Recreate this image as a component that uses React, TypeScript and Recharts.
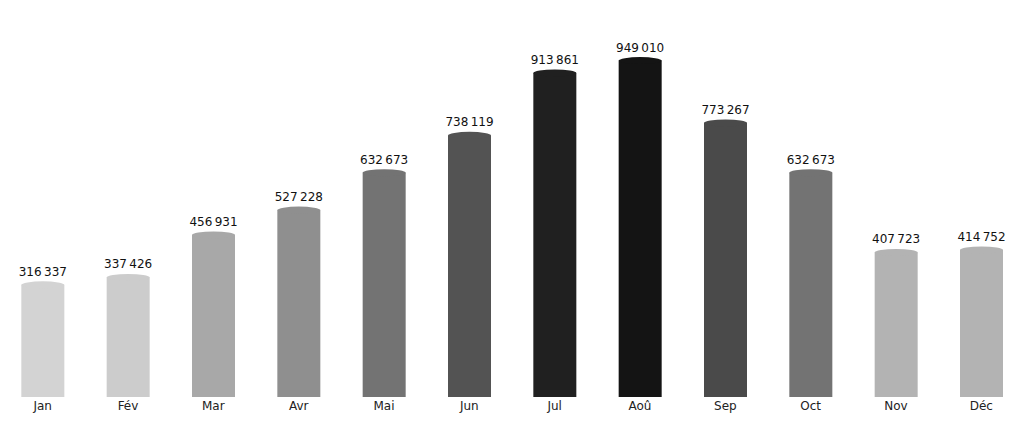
import React from 'react';
import { BarChart, Bar, XAxis, YAxis, LabelList, Cell } from 'recharts';

const months = ['Jan', 'Fév', 'Mar', 'Avr', 'Mai', 'Jun', 'Jul', 'Aoû', 'Sep', 'Oct', 'Nov', 'Déc'];
const visits = [316337, 337426, 456931, 527228, 632673, 738119, 913861, 949010, 773267, 632673, 407723, 414752];
const shades = ['#d3d3d3', '#cccccc', '#a8a8a8', '#8f8f8f', '#737373', '#535353', '#202020', '#141414', '#4a4a4a', '#737373', '#b3b3b3', '#b3b3b3'];

const data = months.map((m, i) => ({ month: m, value: visits[i] }));

const fmt = (v: number) => v.toLocaleString('fr-FR').replace(/\s/g, '\u2009');

// bar body with an elliptic cap on top, like a cylinder
const CapBar = (props: any) => {
  const { x, y, width, height, fill } = props;
  if (height <= 0) return null;
  const ry = 3.5;
  return (
    <g>
      <rect x={x} y={y} width={width} height={height} fill={fill} />
      <ellipse cx={x + width / 2} cy={y} rx={width / 2} ry={ry} fill={fill} />
    </g>
  );
};

export default function App() {
  return (
    <div style={{ position: 'absolute', left: 0, top: 0, width: 1024, height: 422, background: '#fff' }}>
      <BarChart
        width={1024}
        height={422}
        data={data}
        margin={{ top: 0, right: 0, bottom: 0, left: 0 }}
        barCategoryGap="25%"
      >
        <XAxis
          dataKey="month"
          axisLine={false}
          tickLine={false}
          height={25}
          tickSize={4}
          tickMargin={0}
          tick={{ fill: '#222', fontSize: 12, fontFamily: 'DejaVu Sans' }}
        />
        <YAxis hide domain={[0, 1120000]} />
        <Bar dataKey="value" shape={<CapBar />} isAnimationActive={false}>
          {data.map((d, i) => (
            <Cell key={d.month} fill={shades[i]} />
          ))}
          <LabelList
            dataKey="value"
            position="top"
            offset={9}
            formatter={(v: any) => fmt(Number(v))}
            style={{ fill: '#111', fontSize: 12, fontFamily: 'DejaVu Sans' }}
          />
        </Bar>
      </BarChart>
    </div>
  );
}
